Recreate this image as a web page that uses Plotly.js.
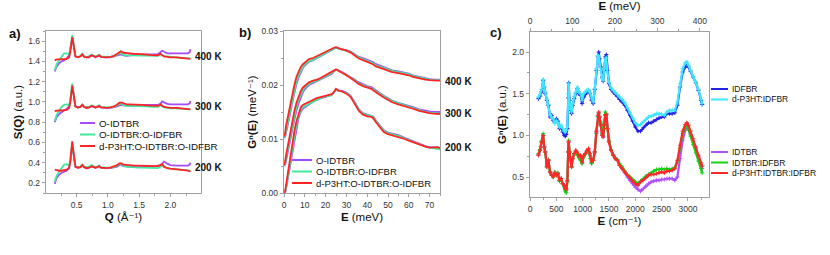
<!DOCTYPE html>
<html>
<head>
<meta charset="utf-8">
<script src="https://cdn.plot.ly/plotly-3.0.1.min.js"></script>
<style>html,body{margin:0;padding:0;background:#fff;}#chart{width:830px;height:255px;}</style>
</head>
<body>
<div id="chart"></div>
<script>
// ---------- Panel a: S(Q) ----------
const qValues = [0.15,0.18,0.22,0.26,0.30,0.34,0.38,0.40,0.42,0.43,
  0.44,0.46,0.48,0.52,0.56,0.59,0.62,0.66,0.70,0.74,
  0.77,0.80,0.83,0.86,0.89,0.93,0.98,1.04,1.10,1.15,
  1.18,1.21,1.25,1.30,1.36,1.42,1.48,1.55,1.62,1.70,
  1.76,1.80,1.84,1.87,1.90,1.95,2.00,2.10,2.20,2.28,
  2.31,2.32];
const sqIDTBR_400 = [1.30,1.35,1.38,1.40,1.41,1.43,1.46,1.52,1.60,1.63,
  1.60,1.50,1.45,1.44,1.45,1.47,1.45,1.44,1.44,1.46,
  1.455,1.44,1.45,1.46,1.445,1.44,1.44,1.44,1.45,1.46,
  1.47,1.47,1.46,1.455,1.46,1.465,1.47,1.47,1.47,1.47,
  1.47,1.47,1.49,1.505,1.495,1.48,1.48,1.48,1.48,1.48,
  1.49,1.52];
const sqBlend_400 = [1.31,1.37,1.41,1.45,1.48,1.48,1.47,1.52,1.62,1.66,
  1.62,1.51,1.45,1.445,1.45,1.475,1.45,1.445,1.45,1.465,
  1.46,1.45,1.455,1.465,1.45,1.445,1.445,1.445,1.45,1.465,
  1.48,1.48,1.465,1.46,1.46,1.46,1.46,1.46,1.455,1.455,
  1.455,1.455,1.47,1.46,1.45,1.45,1.445,1.44,1.435,1.43,
  1.43,1.43];
const sqTernary_400 = [1.41,1.42,1.42,1.42,1.42,1.425,1.44,1.50,1.60,1.64,
  1.61,1.50,1.45,1.44,1.45,1.47,1.445,1.44,1.445,1.46,
  1.455,1.445,1.45,1.46,1.445,1.44,1.44,1.445,1.455,1.475,
  1.49,1.50,1.485,1.48,1.475,1.475,1.475,1.47,1.465,1.46,
  1.46,1.46,1.475,1.46,1.45,1.445,1.44,1.44,1.435,1.43,
  1.425,1.425];
const sqIDTBR_300 = [0.80,0.85,0.88,0.90,0.915,0.93,0.955,1.02,1.12,1.16,
  1.12,1.01,0.955,0.945,0.95,0.97,0.95,0.945,0.945,0.96,
  0.955,0.945,0.95,0.96,0.945,0.94,0.94,0.94,0.945,0.955,
  0.965,0.97,0.965,0.96,0.96,0.965,0.97,0.97,0.97,0.97,
  0.97,0.97,0.98,1.005,0.995,0.98,0.975,0.975,0.975,0.975,
  0.985,1.01];
const sqBlend_300 = [0.81,0.87,0.91,0.95,0.97,0.975,0.965,1.02,1.13,1.18,
  1.13,1.02,0.955,0.945,0.95,0.975,0.95,0.945,0.95,0.965,
  0.96,0.95,0.955,0.965,0.95,0.945,0.945,0.945,0.95,0.965,
  0.98,0.985,0.965,0.96,0.96,0.96,0.96,0.955,0.955,0.95,
  0.95,0.95,0.965,0.955,0.945,0.94,0.935,0.935,0.93,0.925,
  0.925,0.925];
const sqTernary_300 = [0.91,0.915,0.915,0.915,0.915,0.92,0.94,1.00,1.11,1.16,
  1.12,1.01,0.955,0.945,0.95,0.97,0.95,0.94,0.945,0.96,
  0.955,0.945,0.95,0.96,0.945,0.94,0.94,0.945,0.955,0.975,
  0.99,0.995,0.985,0.975,0.975,0.975,0.975,0.97,0.965,0.96,
  0.96,0.96,0.975,0.96,0.95,0.945,0.94,0.94,0.935,0.93,
  0.925,0.925];
const sqIDTBR_200 = [0.19,0.25,0.28,0.30,0.31,0.32,0.345,0.41,0.52,0.57,
  0.53,0.42,0.36,0.35,0.355,0.375,0.355,0.345,0.35,0.365,
  0.36,0.35,0.355,0.365,0.35,0.345,0.345,0.345,0.35,0.36,
  0.375,0.38,0.365,0.36,0.355,0.355,0.355,0.355,0.36,0.36,
  0.365,0.37,0.375,0.39,0.41,0.39,0.375,0.37,0.37,0.37,
  0.38,0.40];
const sqBlend_200 = [0.21,0.27,0.31,0.35,0.38,0.385,0.37,0.43,0.54,0.60,
  0.54,0.43,0.36,0.355,0.36,0.38,0.36,0.355,0.36,0.375,
  0.365,0.355,0.36,0.37,0.355,0.35,0.35,0.35,0.355,0.37,
  0.385,0.385,0.365,0.36,0.355,0.35,0.35,0.35,0.35,0.345,
  0.345,0.345,0.36,0.37,0.355,0.345,0.34,0.335,0.33,0.325,
  0.32,0.32];
const sqTernary_200 = [0.33,0.325,0.32,0.32,0.325,0.33,0.35,0.42,0.55,0.61,
  0.55,0.43,0.36,0.35,0.355,0.375,0.355,0.345,0.35,0.365,
  0.36,0.35,0.355,0.365,0.35,0.345,0.345,0.35,0.36,0.375,
  0.39,0.395,0.38,0.375,0.37,0.37,0.37,0.37,0.37,0.365,
  0.365,0.365,0.375,0.385,0.36,0.345,0.34,0.335,0.33,0.32,
  0.315,0.31];

// ---------- Panel b: G(E) ----------
const eValues = [0,0.5,1,2,3,4,5,6,7,8,
  9,10,11,12,14,16,18,20,22,23,
  24,25,26,27,28,30,32,34,35,36,
  38,40,42,43,44,46,48,50,52,55,
  58,60,62,65,68,70,72,74,75];
const gIDTBR_400 = [0.0102,0.0104,0.0112,0.0128,0.0148,0.0168,0.0186,0.0202,0.0214,0.0224,
  0.0231,0.0236,0.0240,0.0243,0.0246,0.0250,0.0254,0.0258,0.0262,0.0264,
  0.0267,0.0269,0.0268,0.0267,0.0266,0.0265,0.0262,0.0257,0.0254,0.0252,
  0.0250,0.0247,0.0244,0.0242,0.0239,0.0236,0.0232,0.0229,0.0227,0.0225,
  0.0223,0.0221,0.0218,0.0215,0.0212,0.0211,0.0210,0.0210,0.0210];
const gBlend_400 = [0.0103,0.0106,0.0116,0.0134,0.0154,0.0174,0.0191,0.0206,0.0218,0.0227,
  0.0233,0.0238,0.0242,0.0244,0.0247,0.0251,0.0255,0.0259,0.0263,0.0265,
  0.0267,0.0269,0.0268,0.0267,0.0266,0.0264,0.0261,0.0256,0.0253,0.0251,
  0.0248,0.0245,0.0242,0.0240,0.0237,0.0234,0.0231,0.0228,0.0226,0.0224,
  0.0222,0.0220,0.0217,0.0214,0.0211,0.0210,0.0209,0.0209,0.0209];
const gTernary_400 = [0.0105,0.0110,0.0125,0.0145,0.0165,0.0185,0.0200,0.0215,0.0225,0.0233,
  0.0238,0.0242,0.0245,0.0248,0.0250,0.0254,0.0258,0.0261,0.0265,0.0267,
  0.0269,0.0270,0.0268,0.0267,0.0266,0.0264,0.0260,0.0254,0.0251,0.0249,
  0.0246,0.0243,0.0240,0.0238,0.0235,0.0232,0.0229,0.0226,0.0224,0.0222,
  0.0220,0.0218,0.0215,0.0212,0.0210,0.0209,0.0208,0.0208,0.0208];
const gIDTBR_300 = [0.0050,0.0052,0.0060,0.0077,0.0098,0.0118,0.0137,0.0153,0.0166,0.0177,
  0.0186,0.0192,0.0196,0.0200,0.0204,0.0207,0.0211,0.0215,0.0219,0.0221,
  0.0225,0.0228,0.0227,0.0226,0.0224,0.0219,0.0215,0.0210,0.0207,0.0205,
  0.0201,0.0198,0.0196,0.0193,0.0190,0.0185,0.0180,0.0175,0.0171,0.0167,
  0.0164,0.0162,0.0159,0.0155,0.0152,0.0151,0.0150,0.0150,0.0150];
const gBlend_300 = [0.0051,0.0055,0.0065,0.0084,0.0106,0.0126,0.0144,0.0160,0.0172,0.0182,
  0.0190,0.0195,0.0199,0.0202,0.0206,0.0208,0.0212,0.0216,0.0220,0.0222,
  0.0226,0.0228,0.0227,0.0225,0.0223,0.0219,0.0214,0.0209,0.0206,0.0203,
  0.0200,0.0197,0.0194,0.0192,0.0189,0.0184,0.0178,0.0174,0.0170,0.0166,
  0.0163,0.0160,0.0157,0.0153,0.0150,0.0149,0.0148,0.0148,0.0147];
const gTernary_300 = [0.0052,0.0058,0.0070,0.0092,0.0115,0.0135,0.0152,0.0167,0.0178,0.0188,
  0.0195,0.0199,0.0202,0.0205,0.0208,0.0210,0.0214,0.0218,0.0222,0.0224,
  0.0227,0.0229,0.0227,0.0225,0.0223,0.0218,0.0213,0.0207,0.0204,0.0202,
  0.0198,0.0195,0.0193,0.0190,0.0187,0.0182,0.0177,0.0172,0.0168,0.0164,
  0.0161,0.0159,0.0156,0.0152,0.0149,0.0148,0.0147,0.0147,0.0146];
const gIDTBR_200 = [0.0000,0.0000,0.0008,0.0030,0.0056,0.0080,0.0103,0.0123,0.0139,0.0150,
  0.0156,0.0159,0.0161,0.0164,0.0169,0.0173,0.0176,0.0178,0.0180,0.0182,
  0.0186,0.0192,0.0190,0.0190,0.0189,0.0186,0.0180,0.0168,0.0161,0.0155,
  0.0148,0.0145,0.0143,0.0141,0.0135,0.0125,0.0116,0.0112,0.0110,0.0107,
  0.0102,0.0099,0.0096,0.0091,0.0087,0.0085,0.0084,0.0084,0.0082];
const gBlend_200 = [0.0000,0.0001,0.0010,0.0034,0.0061,0.0085,0.0108,0.0127,0.0142,0.0153,
  0.0159,0.0161,0.0163,0.0166,0.0170,0.0174,0.0177,0.0179,0.0180,0.0182,
  0.0186,0.0192,0.0190,0.0189,0.0188,0.0185,0.0179,0.0167,0.0160,0.0154,
  0.0147,0.0144,0.0143,0.0140,0.0134,0.0124,0.0115,0.0111,0.0109,0.0106,
  0.0101,0.0098,0.0095,0.0090,0.0086,0.0084,0.0083,0.0082,0.0081];
const gTernary_200 = [0.0000,0.0003,0.0015,0.0040,0.0068,0.0092,0.0115,0.0133,0.0148,0.0158,
  0.0163,0.0165,0.0166,0.0169,0.0173,0.0176,0.0178,0.0180,0.0181,0.0183,
  0.0187,0.0193,0.0190,0.0189,0.0188,0.0184,0.0178,0.0165,0.0158,0.0152,
  0.0145,0.0142,0.0141,0.0138,0.0132,0.0122,0.0113,0.0109,0.0107,0.0104,
  0.0100,0.0097,0.0094,0.0090,0.0086,0.0084,0.0084,0.0085,0.0083];

// ---------- Panel c: G(E) in cm-1 ----------
const wnValues = [160,190,220,250,270,290,320,350,380,410,
  440,470,500,530,560,590,620,650,670,690,
  710,725,735,750,770,790,810,840,870,900,
  930,960,990,1020,1050,1080,1110,1140,1170,1200,
  1230,1260,1290,1305,1320,1345,1370,1390,1410,1430,
  1450,1470,1500,1540,1580,1620,1660,1700,1750,1800,
  1850,1900,1950,2000,2050,2100,2150,2200,2250,2300,
  2350,2400,2450,2500,2550,2600,2650,2700,2750,2800,
  2850,2900,2950,2980,3010,3050,3100,3150,3200,3250,3270];
const cIDFBR = [1.44,1.47,1.52,1.66,1.58,1.50,1.42,1.36,1.22,1.24,
  1.18,1.16,1.20,1.17,1.08,1.10,1.04,1.00,0.99,1.01,
  1.08,1.45,1.63,1.42,1.30,1.26,1.36,1.44,1.50,1.56,
  1.50,1.48,1.38,1.46,1.49,1.52,1.54,1.50,1.42,1.38,
  1.55,1.78,1.94,2.00,1.92,1.82,1.70,1.65,1.78,1.94,
  1.97,1.78,1.62,1.55,1.52,1.49,1.47,1.43,1.40,1.36,
  1.30,1.24,1.17,1.10,1.05,1.05,1.09,1.12,1.15,1.15,
  1.17,1.19,1.21,1.22,1.22,1.26,1.26,1.26,1.27,1.36,
  1.58,1.76,1.82,1.84,1.82,1.77,1.70,1.63,1.54,1.42,1.37];
const cP3HT_IDFBR = [1.46,1.49,1.55,1.67,1.58,1.52,1.44,1.37,1.25,1.22,
  1.20,1.14,1.18,1.15,1.10,1.12,1.08,1.05,1.04,1.06,
  1.12,1.50,1.62,1.40,1.32,1.28,1.38,1.47,1.52,1.58,
  1.52,1.50,1.42,1.50,1.52,1.54,1.55,1.51,1.44,1.40,
  1.56,1.80,1.96,1.95,1.88,1.78,1.68,1.66,1.80,1.92,
  1.93,1.76,1.64,1.57,1.54,1.51,1.49,1.46,1.43,1.39,
  1.33,1.27,1.21,1.15,1.12,1.13,1.16,1.19,1.22,1.23,
  1.24,1.26,1.26,1.25,1.24,1.28,1.30,1.30,1.30,1.40,
  1.62,1.80,1.87,1.88,1.84,1.78,1.71,1.64,1.55,1.43,1.38];
const cIDTBR = [0.77,0.82,0.92,1.00,0.86,0.80,0.63,0.70,0.56,0.53,
  0.51,0.55,0.53,0.54,0.46,0.48,0.42,0.39,0.35,0.34,
  0.45,0.80,0.92,0.80,0.70,0.62,0.72,0.78,0.81,0.78,
  0.74,0.74,0.67,0.75,0.78,0.81,0.83,0.76,0.67,0.70,
  0.80,1.04,1.23,1.27,1.22,1.12,1.00,0.98,1.13,1.25,
  1.25,1.08,0.92,0.82,0.76,0.72,0.70,0.64,0.60,0.55,
  0.50,0.46,0.42,0.38,0.35,0.33,0.36,0.39,0.42,0.44,
  0.45,0.46,0.46,0.47,0.47,0.48,0.48,0.48,0.46,0.50,
  0.72,0.94,1.06,1.09,1.07,1.01,0.93,0.84,0.74,0.65,0.60];
const cIDTBR_IDFBR = [0.78,0.83,0.93,1.02,0.86,0.80,0.62,0.71,0.56,0.52,
  0.50,0.56,0.52,0.55,0.45,0.48,0.42,0.38,0.33,0.31,
  0.44,0.80,0.94,0.80,0.70,0.62,0.72,0.78,0.80,0.76,
  0.73,0.70,0.66,0.74,0.78,0.80,0.82,0.72,0.66,0.70,
  0.80,1.02,1.22,1.26,1.22,1.14,1.02,1.00,1.16,1.28,
  1.26,1.08,0.94,0.83,0.77,0.73,0.71,0.66,0.62,0.57,
  0.53,0.50,0.47,0.44,0.42,0.45,0.48,0.51,0.53,0.55,
  0.57,0.59,0.59,0.60,0.59,0.60,0.59,0.60,0.61,0.68,
  0.85,1.02,1.10,1.11,1.07,0.99,0.89,0.79,0.69,0.60,0.55];
const cP3HT_IDTBR_IDFBR = [0.76,0.82,0.92,1.00,0.86,0.80,0.62,0.70,0.56,0.52,
  0.50,0.55,0.52,0.54,0.46,0.48,0.42,0.40,0.36,0.36,
  0.46,0.80,0.92,0.80,0.70,0.62,0.72,0.78,0.82,0.80,
  0.75,0.76,0.68,0.76,0.78,0.82,0.84,0.78,0.68,0.70,
  0.80,1.05,1.24,1.28,1.22,1.12,1.00,0.98,1.12,1.24,
  1.25,1.08,0.92,0.82,0.76,0.72,0.70,0.64,0.60,0.56,
  0.52,0.49,0.45,0.42,0.40,0.44,0.46,0.49,0.52,0.53,
  0.53,0.54,0.55,0.56,0.55,0.57,0.57,0.58,0.60,0.70,
  0.88,1.05,1.13,1.15,1.12,1.05,0.96,0.86,0.76,0.67,0.63];

// ---------- labels ----------
const seriesNamesAB = ['O-IDTBR', 'O-IDTBR:O-IDFBR', 'd-P3HT:O-IDTBR:O-IDFBR'];
const seriesNamesCUpper = ['IDFBR', 'd-P3HT:IDFBR'];
const seriesNamesCLower = ['IDTBR', 'IDTBR:IDFBR', 'd-P3HT:IDTBR:IDFBR'];
const tempLabels = ['400 K', '300 K', '200 K'];
const panelLabels = ['a)', 'b)', 'c)'];
const meVPerWavenumber = 1 / 8.0655;

// ---------- styling ----------
const W = 830, H = 255;
const FONT = 'Liberation Sans, Arial, Helvetica, DejaVu Sans, sans-serif';
const colAB = ['#a64bff', '#3fe89a', '#ff2424'];
const colCUpper = ['#2323e6', '#3fe6ff'];
const colCLower = ['#b050ff', '#12d012', '#ff2828'];
const px = x => x / W;
const py = y => 1 - y / H;

const traces = [];
const sqSets = [
  [sqIDTBR_400, sqBlend_400, sqTernary_400],
  [sqIDTBR_300, sqBlend_300, sqTernary_300],
  [sqIDTBR_200, sqBlend_200, sqTernary_200]
];
sqSets.forEach(set => set.forEach((ys, i) => traces.push({
  x: qValues, y: ys, xaxis: 'x', yaxis: 'y', type: 'scatter', mode: 'lines',
  name: seriesNamesAB[i], showlegend: false, line: {color: colAB[i], width: 1.8}
})));
const gSets = [
  [gIDTBR_400, gBlend_400, gTernary_400],
  [gIDTBR_300, gBlend_300, gTernary_300],
  [gIDTBR_200, gBlend_200, gTernary_200]
];
gSets.forEach(set => set.forEach((ys, i) => traces.push({
  x: eValues, y: ys, xaxis: 'x2', yaxis: 'y2', type: 'scatter', mode: 'lines',
  name: seriesNamesAB[i], showlegend: false, line: {color: colAB[i], width: 1.8}
})));
[cIDFBR, cP3HT_IDFBR].forEach((ys, i) => traces.push({
  x: wnValues, y: ys, xaxis: 'x3', yaxis: 'y3', type: 'scatter', mode: 'lines+markers',
  name: seriesNamesCUpper[i], showlegend: false,
  line: {color: colCUpper[i], width: 2.2}, marker: {color: colCUpper[i], size: 3, symbol: 'cross-thin', line: {color: colCUpper[i], width: 1}}
}));
[cIDTBR, cIDTBR_IDFBR, cP3HT_IDTBR_IDFBR].forEach((ys, i) => traces.push({
  x: wnValues, y: ys, xaxis: 'x3', yaxis: 'y3', type: 'scatter', mode: 'lines+markers',
  name: seriesNamesCLower[i], showlegend: false,
  line: {color: colCLower[i], width: 2.2}, marker: {color: colCLower[i], size: 3, symbol: 'cross-thin', line: {color: colCLower[i], width: 1}}
}));
// same IDFBR data expressed in meV, invisible, so that the top meV axis is drawn
traces.push({
  x: wnValues.map(w => w * meVPerWavenumber), y: cIDFBR, xaxis: 'x4', yaxis: 'y3', type: 'scatter', mode: 'lines',
  name: 'IDFBR (meV)', showlegend: false, hoverinfo: 'skip', opacity: 0, line: {width: 0, color: 'rgba(0,0,0,0)'}
});

const tickFont = {family: FONT, size: 8.5, color: '#333'};
const titleFont = {family: FONT, size: 11.5, color: '#111'};
function minorT(dt) { return {ticks: 'outside', ticklen: 2, tickcolor: '#a0a0a0', tickwidth: 1, dtick: dt, tick0: 0, showgrid: false}; }
function axis(extra) {
  return Object.assign({
    showline: true, linecolor: '#a0a0a0', linewidth: 1.3, mirror: true,
    ticks: 'outside', ticklen: 3, tickcolor: '#a0a0a0', tickwidth: 1,
    showgrid: false, zeroline: false, tickfont: tickFont
  }, extra);
}

const layout = {
  width: W, height: H, margin: {l: 0, r: 0, t: 0, b: 0},
  paper_bgcolor: '#fff', plot_bgcolor: '#fff', showlegend: false,
  font: {family: FONT},
  xaxis: axis({domain: [px(46), px(201)], anchor: 'y', range: [0.01, 2.49], tick0: 0, dtick: 0.5, tickformat: '.1f',
    minor: minorT(0.25), title: {text: '<b>Q</b> (Å⁻¹)', font: titleFont, standoff: 4}}),
  yaxis: axis({domain: [py(193), py(31)], anchor: 'x', range: [0.1, 1.7], tick0: 0, dtick: 0.2, tickformat: '.1f',
    minor: minorT(0.1), title: {text: '<b>S(Q)</b> (a.u.)', font: titleFont, standoff: 3}}),
  xaxis2: axis({domain: [px(284), px(440)], anchor: 'y2', range: [0, 75], tick0: 0, dtick: 10,
    minor: minorT(5), title: {text: '<b>E</b> (meV)', font: titleFont, standoff: 4}}),
  yaxis2: axis({domain: [py(193), py(31)], anchor: 'x2', range: [0, 0.03], tick0: 0, dtick: 0.01, tickformat: '.2f',
    minor: minorT(0.005), title: {text: '<b>Gⁿ(E)</b> (meV⁻¹)', font: titleFont, standoff: 2}}),
  xaxis3: axis({domain: [px(530), px(709)], anchor: 'y3', range: [0, 3400], tick0: 0, dtick: 500,
    minor: minorT(250), title: {text: '<b>E</b> (cm⁻¹)', font: titleFont, standoff: 4}}),
  yaxis3: axis({domain: [py(197), py(32)], anchor: 'x3', range: [0.26, 2.24], tick0: 0, dtick: 0.5, tickformat: '.1f',
    minor: minorT(0.25), title: {text: '<b>Gⁿ(E)</b> (a.u.)', font: titleFont, standoff: 3}}),
  xaxis4: axis({overlaying: 'x3', anchor: 'y3', side: 'top', mirror: false,
    range: [0, 3400 * meVPerWavenumber], tick0: 0, dtick: 100,
    minor: minorT(50), title: {text: '<b>E</b> (meV)', font: titleFont, standoff: 3}}),
  shapes: [], annotations: []
};

function legendEntry(x0, x1, y, color, text, size) {
  layout.shapes.push({type: 'line', xref: 'paper', yref: 'paper', x0: px(x0), x1: px(x1), y0: py(y), y1: py(y),
    line: {color: color, width: 2}});
  layout.annotations.push({xref: 'paper', yref: 'paper', x: px(x1 + 2), y: py(y), xanchor: 'left', yanchor: 'middle',
    text: text, showarrow: false, font: {family: FONT, size: size, color: '#111'}});
}
const legAY = [123, 134.5, 146];
seriesNamesAB.forEach((n, i) => legendEntry(80, 95, legAY[i], colAB[i], n, 9.8));
const legBY = [160, 171.5, 183];
seriesNamesAB.forEach((n, i) => legendEntry(292, 312, legBY[i], colAB[i], n, 9.5));
const legCUY = [89, 99.5];
seriesNamesCUpper.forEach((n, i) => legendEntry(711, 728, legCUY[i], colCUpper[i], n, 8.5));
const legCLY = [152, 162.5, 173];
seriesNamesCLower.forEach((n, i) => legendEntry(711, 728, legCLY[i], colCLower[i], n, 8.5));

const boldFont = {family: FONT, size: 10, color: '#111', weight: 'bold'};
const tempAY = [57, 106, 167];
const tempBY = [81, 113, 147];
tempLabels.forEach((t, i) => {
  layout.annotations.push({xref: 'paper', yref: 'paper', x: px(193), y: py(tempAY[i]), xanchor: 'left', yanchor: 'middle',
    text: t, showarrow: false, font: boldFont});
  layout.annotations.push({xref: 'paper', yref: 'paper', x: px(443), y: py(tempBY[i]), xanchor: 'left', yanchor: 'middle',
    text: t, showarrow: false, font: boldFont});
});
const panelPos = [[7, 34], [237, 33], [488, 32]];
panelLabels.forEach((t, i) => layout.annotations.push({xref: 'paper', yref: 'paper', x: px(panelPos[i][0]), y: py(panelPos[i][1]),
  xanchor: 'left', yanchor: 'middle', text: t, showarrow: false, font: {family: FONT, size: 13, color: '#111', weight: 'bold'}}));

Plotly.newPlot('chart', traces, layout, {staticPlot: true, displayModeBar: false});
</script>
</body>
</html>
